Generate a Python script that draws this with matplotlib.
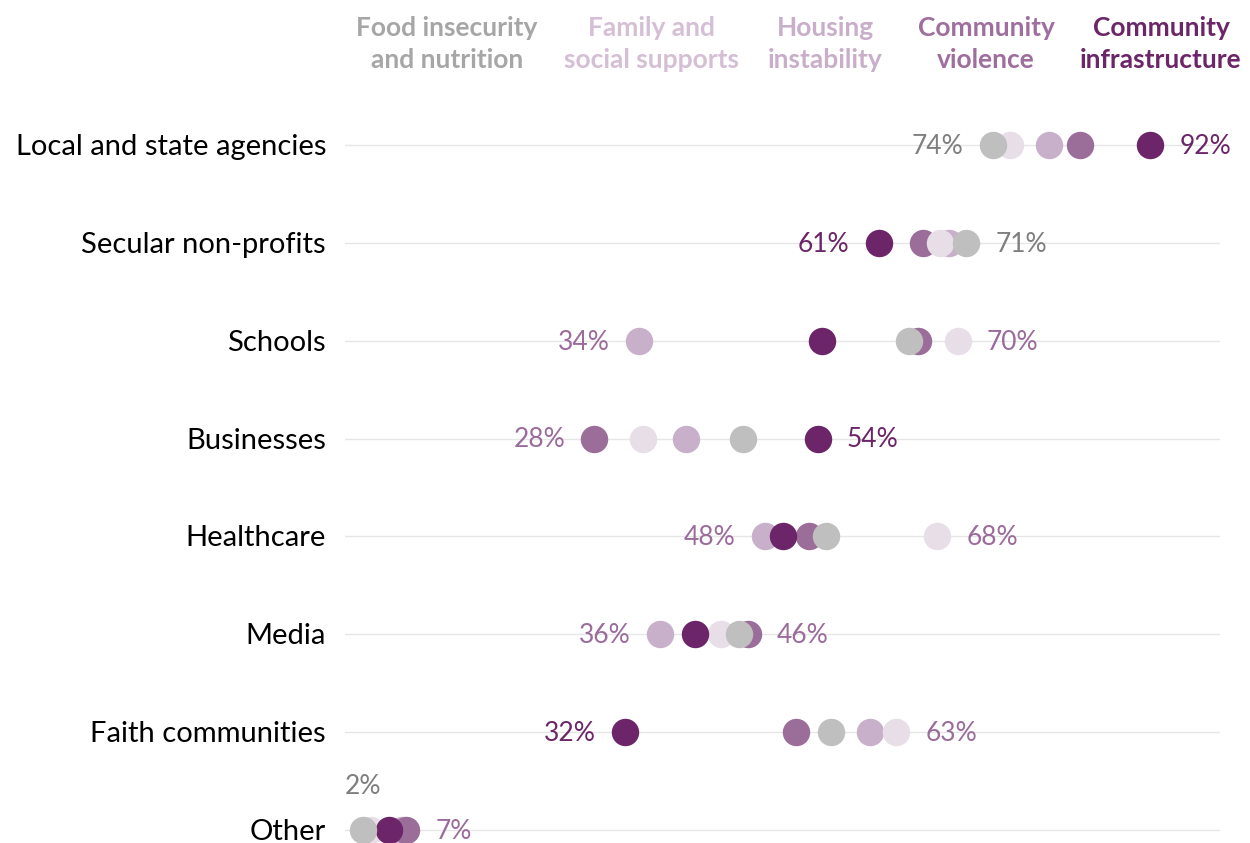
import matplotlib
matplotlib.use("Agg")
import matplotlib.pyplot as plt
from matplotlib.transforms import blended_transform_factory, offset_copy

plt.rcParams['font.family'] = ['Lato', 'DejaVu Sans']

# данные (проценты)
categories = ["Local and state agencies", "Secular non-profits", "Schools", "Businesses",
              "Healthcare", "Media", "Faith communities", "Other"]
series = ["Food insecurity\nand nutrition", "Family and\nsocial supports", "Housing\ninstability",
          "Community\nviolence", "Community\ninfrastructure"]
food = [74, 71, 64.5, 45.5, 55, 45, 55.5, 2]
family = [76, 68, 70, 34, 67.7, 43, 63, 3]
housing = [80.5, 69, 33.6, 39, 48, 36, 60, 6.5]
violence = [84, 66, 65.5, 28.5, 53, 46, 51.5, 7]
infra = [92, 61, 54.5, 54, 50, 40, 32, 5]

dot_colors = ["#BFBFBF", "#E8DEE8", "#C9B0CA", "#9B6E9A", "#6C2568"]
head_colors = ["#A6A6A6", "#D5BFD5", "#C9AEC9", "#9E6E9E", "#6C2568"]
label_colors = ["#7F7F7F", "#9B6B9B", "#9B6B9B", "#9B6B9B", "#6C2568"]
values = [food, family, housing, violence, infra]
draw_order = [2, 3, 1, 4, 0]  # какие точки сверху

W, H = 1250, 843
fig = plt.figure(figsize=(W / 100, H / 100), dpi=100)
# ось: x от 345 до 1220 px, y от 100 до 843 px
ax = fig.add_axes([345 / W, 0, 875 / W, 743 / H])
ax.set_xlim(0, 100)
ax.set_ylim(7 + 13 / 97.86, -45 / 97.86)

ys = list(range(len(categories)))
for y in ys:
    ax.axhline(y, color="#E6E6E6", lw=1, zorder=0)

for i in draw_order:
    ax.scatter(values[i], ys, s=390, color=dot_colors[i], zorder=2 + draw_order.index(i),
               linewidths=0, clip_on=False)

# подписи min / max
for r in ys:
    row = [v[r] for v in values]
    lo = row.index(min(row))
    hi = row.index(max(row))
    if categories[r] == "Other":
        ax.annotate(f"{round(row[lo])}%", (row[lo], r), xytext=(0, 31), textcoords="offset points",
                    ha="center", va="center", fontsize=19, color=label_colors[lo])
    else:
        ax.annotate(f"{round(row[lo])}%", (row[lo], r), xytext=(-21, -1), textcoords="offset points",
                    ha="right", va="center", fontsize=19, color=label_colors[lo])
    ax.annotate(f"{round(row[hi])}%", (row[hi], r), xytext=(21, -1), textcoords="offset points",
                ha="left", va="center", fontsize=19, color=label_colors[hi])

tr = blended_transform_factory(ax.transAxes, ax.transData)
tr = offset_copy(tr, fig=fig, x=0, y=-2, units="dots")
for r, c in enumerate(categories):
    ax.text(-19 / 875, r, c, transform=tr, ha="right", va="center", fontsize=21, color="black")

head_x = [447, 652, 825, 986, 1161]
for i, s in enumerate(series):
    fig.text(head_x[i] / W, 1 - 44 / H, s, ha="center", va="center", fontsize=19,
             fontweight="bold", color=head_colors[i], linespacing=1.45)

ax.set_xticks([])
ax.set_yticks([])
for sp in ax.spines.values():
    sp.set_visible(False)

fig.savefig("out.png", dpi=100)
